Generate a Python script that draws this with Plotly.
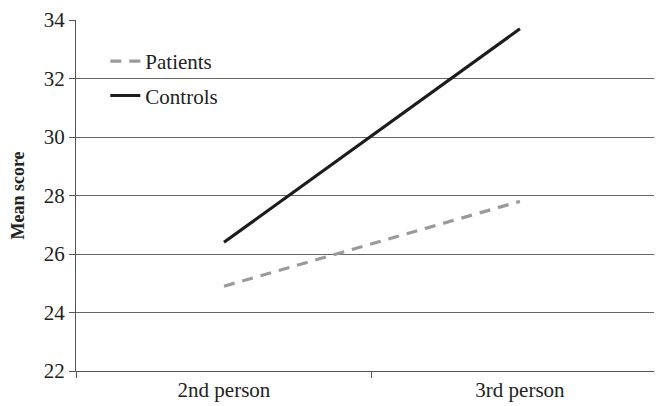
import plotly.graph_objects as go

categories = ["2nd person", "3rd person"]
patients = [24.9, 27.8]
controls = [26.4, 33.7]
y_ticks = [22, 24, 26, 28, 30, 32, 34]

font = "Liberation Serif"

fig = go.Figure()
fig.add_trace(go.Scatter(x=categories, y=patients, mode="lines", name="Patients",
                         legendgroup="p",
                         line=dict(color="#9a9a9a", width=3.2, dash="11px,8px")))
fig.add_trace(go.Scatter(x=categories, y=controls, mode="lines", name="Controls",
                         legendgroup="c",
                         line=dict(color="#1c1c1c", width=3.2)))

# page body adds an 8px offset; compensate in figure size and margins
fig.update_layout(
    width=654, height=398,
    margin=dict(l=68, r=0, t=12, b=35, autoexpand=False),
    plot_bgcolor="white", paper_bgcolor="white",
    font=dict(family=font, size=21, color="#222"),
    showlegend=True,
    legend=dict(x=0.05, y=0.94, xanchor="left", yanchor="top",
                bgcolor="rgba(0,0,0,0)", font=dict(size=21, family=font, color="#222"),
                tracegroupgap=4, itemwidth=30),
    xaxis=dict(range=[-0.5, 1.48], showgrid=False, showline=True,
               linecolor="#555", linewidth=1.3, ticks="outside",
               tickson="boundaries", ticklen=6, tickcolor="#555",
               tickfont=dict(size=21, family=font, color="#222")),
    yaxis=dict(range=[22, 34], tickvals=y_ticks, showgrid=True,
               gridcolor="#666", gridwidth=1.2, showline=True,
               linecolor="#555", linewidth=1.3, ticks="outside", ticklen=6,
               tickcolor="#555", zeroline=False,
               tickfont=dict(size=21, family=font, color="#222"),
               title=dict(text="<b>Mean score</b>", font=dict(size=18, family=font, color="#222"),
                          standoff=14)),
)
fig.write_html("out.html")
